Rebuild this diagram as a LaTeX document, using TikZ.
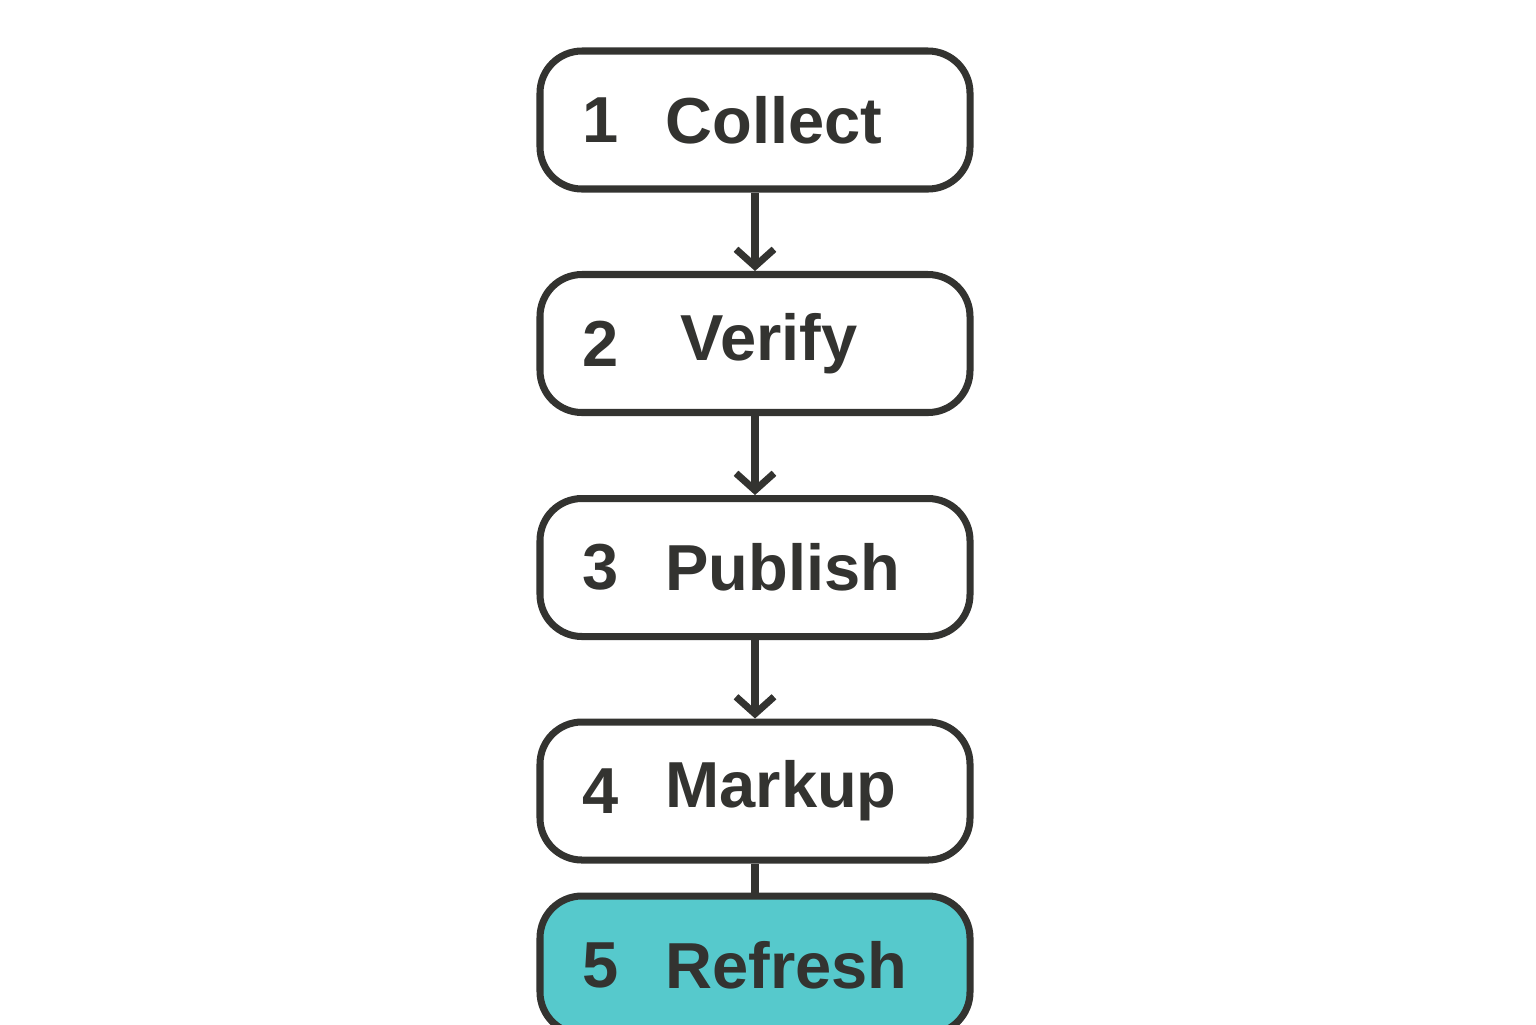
\documentclass[tikz,border=0pt]{standalone}
\usepackage{fontspec}
\setmainfont{Liberation Sans}
\usetikzlibrary{arrows.meta}
\definecolor{ink}{HTML}{333330}
\definecolor{refreshfill}{HTML}{56C9CC}
\begin{document}
\begin{tikzpicture}
        \tikzset{stepbox/.style = {draw=ink, line width=2pt, rounded corners=0.42cm,
            minimum width=4.3cm, minimum height=1.38cm, fill=white},
            steptext/.style = {text=ink, font=\fontsize{18.5}{22}\selectfont\bfseries, anchor=west},
            flow/.style = {draw=ink, line width=2pt, -{Straight Barb[length=0.17cm,width=0.38cm,line width=2pt]}}};
        \useasboundingbox (0,0) rectangle (15.36,-10.24);
        \foreach \i/\y/\word/\wx in {1/-1.2/Collect/6.53, 2/-3.435/Verify/6.68,
            3/-5.675/Publish/6.53, 4/-7.91/Markup/6.53} {
            \node[stepbox] (box\i) at (7.55,\y) {};
            \node[steptext] (num\i) at (5.7,\y) {\i};
            \node[steptext] (word\i) at (\wx,\y) {\word};
        }
        \node[stepbox, fill=refreshfill] (box5) at (7.55,-9.65) {};
        \node[steptext] (num5) at (5.7,-9.65) {5};
        \node[steptext] (word5) at (6.53,-9.65) {Refresh};
        \draw[flow] (box1) -- (box2);
        \draw[flow] (box2) -- (box3);
        \draw[flow] (box3) -- (box4);
        \draw[draw=ink, line width=2pt] (box4) -- (box5);
    \end{tikzpicture}
\end{document}
